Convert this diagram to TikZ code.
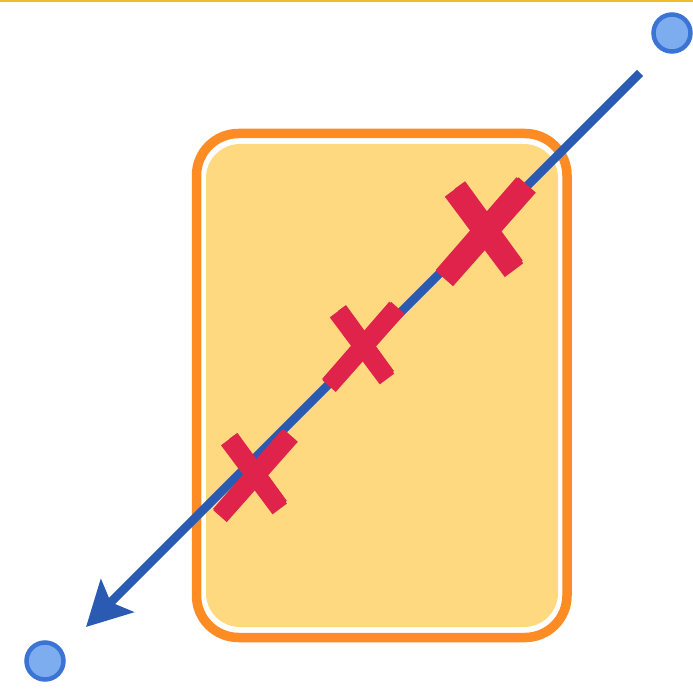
\documentclass[tikz,border=0pt]{standalone}
\usetikzlibrary{arrows.meta}
\definecolor{raycol}{HTML}{2A5AB1}
\definecolor{dotfill}{HTML}{7DADEE}
\definecolor{dotline}{HTML}{3B74D5}
\definecolor{frameor}{HTML}{FD8C25}
\definecolor{zoneyel}{HTML}{FED980}
\definecolor{crossred}{HTML}{E0234A}
\definecolor{barcol}{HTML}{F2B929}
\begin{document}
\begin{tikzpicture}[x=1pt, y=-1pt,
  dot/.style={circle, draw=dotline, fill=dotfill, line width=4.5pt, minimum size=37pt, inner sep=0pt},
  ray/.style={draw=raycol, line width=8.5pt, -{Stealth[length=44pt, width=46pt, inset=9pt]}},
  cross/.style={draw=crossred, line width=#1, line cap=butt}]
\useasboundingbox (0,0) rectangle (693,692);
% bande en haut
\draw[barcol, line width=2.6pt] (0,1.2) -- (693,1.2);
% zone
\draw[frameor, line width=9.5pt, rounded corners=42pt] (196.5,133.5) rectangle (567,637.5);
\fill[zoneyel, rounded corners=34pt] (206,144) rectangle (558,627);
% rayon
\coordinate (rayStart) at (640,73);
\coordinate (rayEnd) at (86,627);
\draw[ray] (rayStart) -- (rayEnd);
% croix
\foreach \cx/\cy/\s/\w in {484/233/1.2/23, 362/348/1/18, 254/477/1.03/18}{
  \begin{scope}[shift={(\cx,\cy)}, scale=\s]
    \draw[cross=\w pt] (-25,-36) -- (25,31);
    \draw[cross=0.55*\w pt] (-20,-40) -- (28,26);
    \draw[cross=\w pt] (36,-40) -- (-33,38);
    \draw[cross=0.55*\w pt] (31,-43) -- (-36,34);
  \end{scope}
}
% points
\node[dot] (src) at (672,33) {};
\node[dot] (dst) at (45,661) {};
\end{tikzpicture}
\end{document}
